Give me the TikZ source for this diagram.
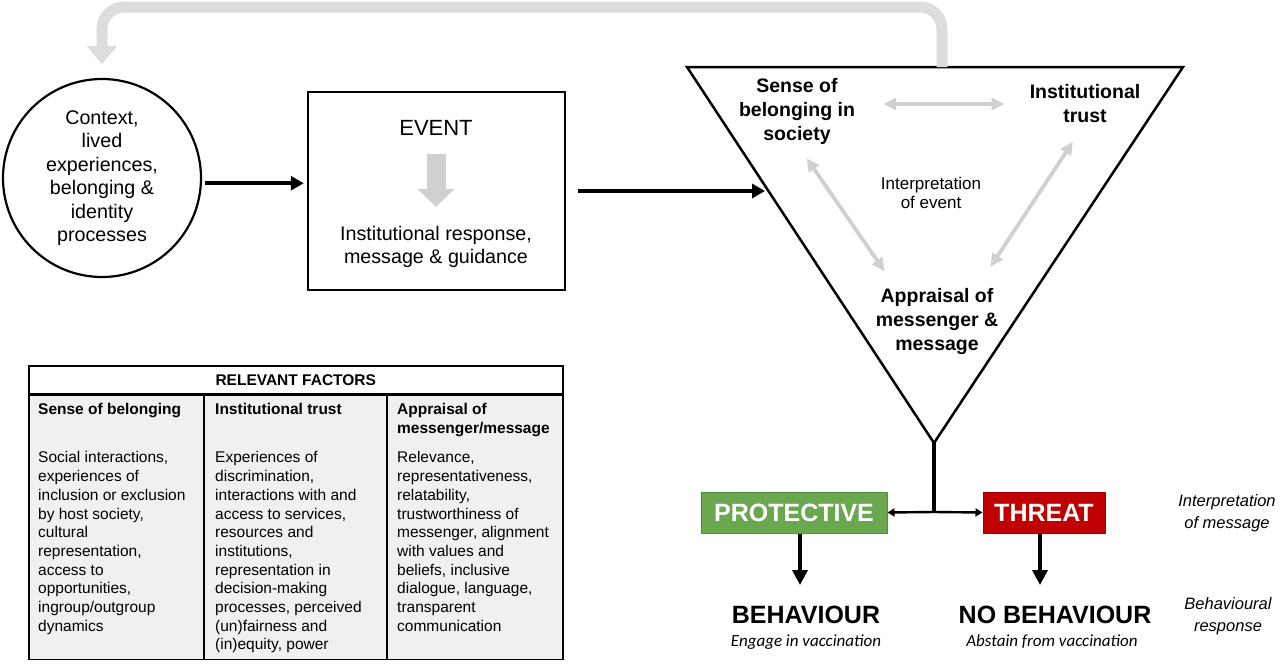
\documentclass[tikz,border=0pt]{standalone}
\usepackage{fontspec}
\setmainfont{Liberation Sans}
\newfontfamily\notefont{Carlito}
\usetikzlibrary{arrows.meta, positioning}

\definecolor{protgreen}{HTML}{6AA84F}
\definecolor{protedge}{HTML}{55893E}
\definecolor{threatred}{HTML}{C00000}
\definecolor{threatedge}{HTML}{A00000}
\definecolor{loopgray}{HTML}{DDDDDD}
\definecolor{linkgray}{HTML}{D0D0D0}
\definecolor{cellgray}{HTML}{F0F0F0}

\tikzset{
  flow/.style={->, line width=3.5pt},
  link/.style={<->, >={Triangle[length=13pt,width=12pt]}, draw=linkgray, line width=3.8pt},
  loopback/.style={->, >={Triangle[length=18pt,width=30pt]}, draw=loopgray, line width=11pt, rounded corners=22pt},
  blockarrow/.style={->, >={Triangle[length=18pt,width=36pt]}, draw=linkgray, line width=19pt},
  factor/.style={font=\bfseries\fontsize{19.5}{24}\selectfont, align=center, inner sep=0pt},
  bodytext/.style={font=\fontsize{19.7}{23.5}\selectfont, align=center, inner sep=0pt},
  verdict/.style={font=\bfseries\fontsize{25}{30}\selectfont, text=white, minimum height=41pt, inner sep=0pt, line width=1pt},
  outcome/.style={font=\bfseries\fontsize{25}{30}\selectfont, inner sep=0pt},
  outcomenote/.style={font=\notefont\itshape\fontsize{17}{20}\selectfont, inner sep=0pt},
  sidenote/.style={font=\itshape\fontsize{16.5}{21.5}\selectfont, align=center, inner sep=0pt},
  coltitle/.style={font=\bfseries\fontsize{15.5}{18.7}\selectfont, align=left, anchor=north west, inner sep=0pt},
  colbody/.style={font=\fontsize{15.5}{18.7}\selectfont, align=left, anchor=north west, inner sep=0pt}
}

\begin{document}
\begin{tikzpicture}[x=1pt, y=-1pt, >={Triangle[length=13pt,width=14pt]}]
  \useasboundingbox (0,0) rectangle (1280,665);

  % context and event
  \node (context) [circle, draw, line width=2.2pt, minimum size=198pt, bodytext] at (102,178)
    {Context,\\ lived\\ experiences,\\ belonging \&\\ identity\\ processes};
  \node (event) [draw, line width=2.5pt, minimum width=257pt, minimum height=198pt] at (436.5,191) {};
  \node (eventlabel) [bodytext, font=\fontsize{22}{26}\selectfont] at (436,128) {EVENT};
  \node (response) [bodytext] at (436,247) {Institutional response,\\ message \& guidance};
  \draw[blockarrow, shorten <=18pt, shorten >=19pt] (eventlabel.south) -- (response.north);

  % triangle
  \coordinate (tl) at (687,67);
  \coordinate (tr) at (1183,67);
  \coordinate (tb) at (934,443);
  \coordinate (entry) at (765,191);
  \draw[line width=2.5pt] (tl) -- (tr) -- (tb) -- cycle;

  \node (belonging) [factor] at (797,111) {Sense of\\ belonging in\\ society};
  \node (trust) [factor] at (1085,104) {Institutional\\ trust};
  \node (appraisal) [factor] at (937,321) {Appraisal of\\ messenger \&\\ message};
  \node (interp) [bodytext, font=\fontsize{17}{19.5}\selectfont] at (931,193) {Interpretation\\ of event};

  \draw[link, shorten <=28pt, shorten >=25pt] (belonging.east |- trust.west) -- (trust.west);
  \draw[link, shorten <=17pt, shorten >=20pt] (belonging.south) -- (appraisal.141);
  \draw[link, shorten <=22pt, shorten >=25pt] (trust.south) -- (appraisal.40);

  \draw[flow, shorten <=3pt, shorten >=3pt] (context.-3) -- (context.-3 -| event.west);
  \draw[flow, shorten <=12pt] (event.east |- entry) -- (entry);

  % feedback loop
  \coordinate (looptop) at (942,67);
  \coordinate (looprail) at (0,7);
  \coordinate (loopend) at ([yshift=14pt]context.north);
  \draw[loopback] (looptop) -- (looptop |- looprail) -| (loopend);

  % interpretation of message
  \coordinate (fork) at (934,512);
  \node (protective) [verdict, fill=protgreen, draw=protedge, minimum width=186pt] at (794,512.5) {PROTECTIVE};
  \node (threat) [verdict, fill=threatred, draw=threatedge, minimum width=122pt] at (1044,512.5) {THREAT};
  \draw[line width=3.5pt] (tb) -- (fork);
  \draw[<->, >={Triangle[length=7pt,width=8pt]}, line width=2.4pt] (protective.east) -- (fork) -- (threat.west);

  % behavioural response
  \node (behaviour) [outcome] at (806,615) {BEHAVIOUR};
  \node (engage) [outcomenote] at (806,642) {Engage in vaccination};
  \node (nobehaviour) [outcome] at (1055,615) {NO BEHAVIOUR};
  \node (abstain) [outcomenote] at (1052,642) {Abstain from vaccination};
  \coordinate (behaviourtip) at (800,585);
  \coordinate (nobehaviourtip) at (1040,585);
  \draw[flow, >={Triangle[length=15pt,width=15pt]}] (protective.south -| behaviourtip) -- (behaviourtip);
  \draw[flow, >={Triangle[length=15pt,width=15pt]}] (threat.south -| nobehaviourtip) -- (nobehaviourtip);

  \node (msgnote) [sidenote] at (1227,513) {Interpretation\\ of message};
  \node (respnote) [sidenote] at (1228,616) {Behavioural\\ response};

  % relevant factors table
  \node (factors) [draw, fill=white, line width=1.5pt, minimum width=534pt, minimum height=28pt,
    anchor=north west, font=\bfseries\fontsize{15.5}{18.7}\selectfont] at (28,365) {RELEVANT FACTORS};
  \node (cells) [draw, fill=cellgray, line width=1.5pt, minimum width=534pt, minimum height=264pt,
    anchor=north west] at (factors.south west) {};
  \draw[line width=1.5pt] ([xshift=176pt]cells.north west) -- ([xshift=176pt]cells.south west);
  \draw[line width=1.5pt] ([xshift=359pt]cells.north west) -- ([xshift=359pt]cells.south west);

  \node (belongtitle) [coltitle] at ([xshift=10pt, yshift=-9pt]cells.north west) {Sense of belonging};
  \node (trusttitle) [coltitle] at ([xshift=187pt, yshift=-9pt]cells.north west) {Institutional trust};
  \node (appraisaltitle) [coltitle] at ([xshift=369pt, yshift=-9pt]cells.north west) {Appraisal of\\ messenger/message};

  \node (belongbody) [colbody] at ([xshift=10pt, yshift=-57pt]cells.north west)
    {Social interactions,\\ experiences of\\ inclusion or exclusion\\ by host society,\\ cultural\\ representation,\\ access to\\ opportunities,\\ ingroup/outgroup\\ dynamics};
  \node (trustbody) [colbody] at ([xshift=187pt, yshift=-57pt]cells.north west)
    {Experiences of\\ discrimination,\\ interactions with and\\ access to services,\\ resources and\\ institutions,\\ representation in\\ decision-making\\ processes, perceived\\ (un)fairness and\\ (in)equity, power};
  \node (appraisalbody) [colbody] at ([xshift=369pt, yshift=-57pt]cells.north west)
    {Relevance,\\ representativeness,\\ relatability,\\ trustworthiness of\\ messenger, alignment\\ with values and\\ beliefs, inclusive\\ dialogue, language,\\ transparent\\ communication};
\end{tikzpicture}
\end{document}
